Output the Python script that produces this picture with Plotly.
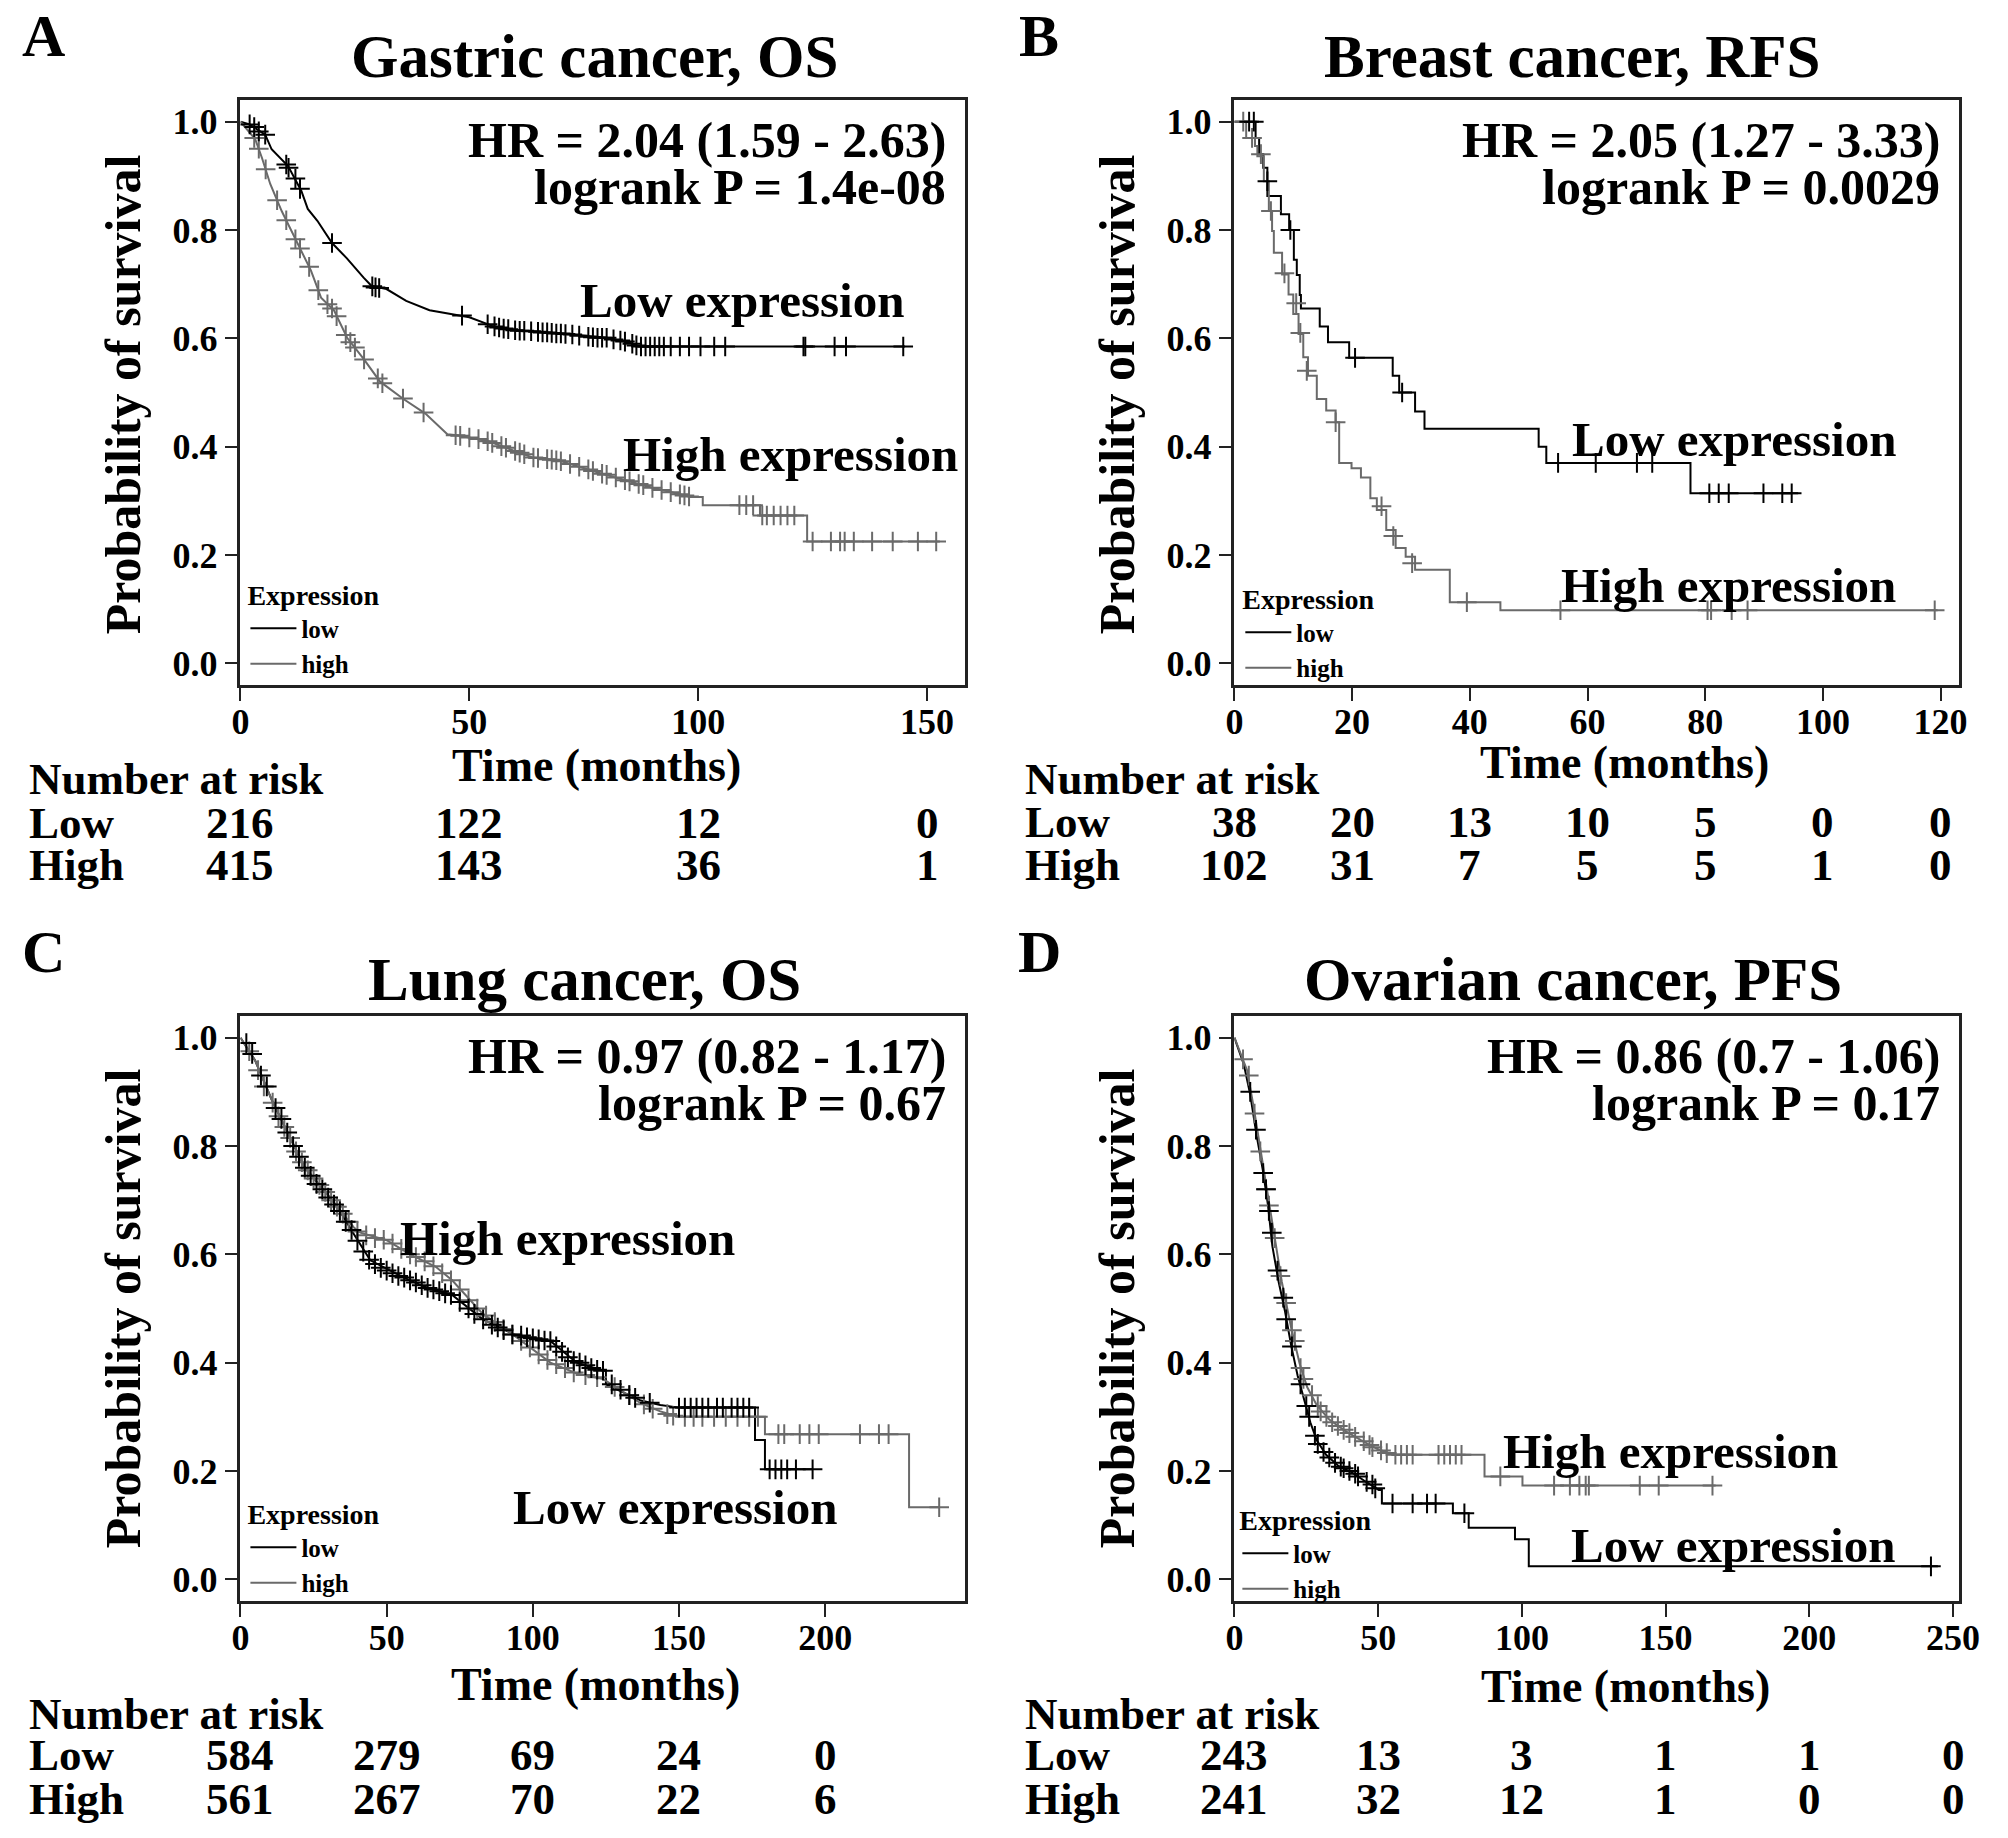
import plotly.graph_objects as go

W, H = 2008, 1838
FONT = "Liberation Serif"
LOW_COLOR = "#000000"
HIGH_COLOR = "#6a6a6a"

# ---------------- A: gastric cancer, OS ----------------
a_low_t = [0, 2, 5.4, 6.8, 10.4, 13.3, 14.7, 16.8, 20, 23.2, 26.9, 28.6, 31.9, 36.2, 41.3, 44.8,
           50, 55, 60, 70, 80, 85, 87, 145.2]
a_low_s = [1.0, 0.995, 0.976, 0.949, 0.918, 0.872, 0.839, 0.817, 0.776, 0.748, 0.712, 0.697, 0.691,
           0.669, 0.652, 0.647, 0.639, 0.623, 0.615, 0.609, 0.601, 0.592, 0.585, 0.585]
a_low_ct = [2, 3, 4, 5.4, 10, 10.5, 12, 13, 20, 28.8, 29.5, 30.3, 48.4, 54, 55.5, 56.5, 57.5, 58.5,
            60, 61, 62, 63.5, 65, 66, 67, 68, 69, 70, 71, 72.5, 74, 76, 77, 78, 79, 80, 81.5, 83, 84,
            85.6, 86.5, 87.5, 88.5, 89.5, 90.5, 91.5, 92.5, 94, 96, 98, 100.5, 103.5, 105.9, 123,
            123.4, 129.8, 132.3, 144.8]
a_low_cs = [0.995, 0.99, 0.982, 0.976, 0.921, 0.915, 0.895, 0.876, 0.776, 0.696, 0.694, 0.693,
            0.642, 0.626, 0.622, 0.62, 0.618, 0.617, 0.615, 0.614, 0.614, 0.613, 0.612, 0.611,
            0.611, 0.61, 0.609, 0.609, 0.608, 0.607, 0.605, 0.603, 0.602, 0.601, 0.601, 0.601,
            0.598, 0.596, 0.594, 0.59, 0.587, 0.585, 0.585, 0.585, 0.585, 0.585, 0.585, 0.585,
            0.585, 0.585, 0.585, 0.585, 0.585, 0.585, 0.585, 0.585, 0.585, 0.585]
a_high_t = [0, 3.2, 4.7, 6.5, 9, 11.1, 13.3, 15.4, 17.6, 20.4, 23.3, 26.9, 30.5, 35.6, 40.4, 45.2,
            47.3, 54.2, 58.3, 63.8, 69.4, 73.5, 79, 84.5, 88.7, 94.2, 98.3, 101, 101, 113.5, 113.5,
            123.8, 123.8, 152.8]
a_high_s = [1.0, 0.968, 0.933, 0.885, 0.835, 0.798, 0.761, 0.725, 0.675, 0.652, 0.601, 0.562, 0.52,
            0.488, 0.461, 0.423, 0.421, 0.41, 0.397, 0.38, 0.375, 0.364, 0.35, 0.337, 0.327, 0.316,
            0.307, 0.307, 0.292, 0.292, 0.273, 0.273, 0.225, 0.225]
a_high_ct = [3, 4, 5.5, 8, 10, 12, 13, 15, 17, 19, 20, 21, 23, 24, 25, 27, 30, 31, 35.5, 40, 47, 48,
             50, 52, 54, 55, 57, 58, 60, 61, 62, 64, 65, 67, 68, 69, 70, 72, 74, 76, 77, 79, 80, 82,
             84, 85, 87, 88, 90, 92, 94, 96, 97, 98, 109, 110.5, 112, 114, 115, 116.5, 118, 119.5,
             121, 125, 129, 131, 132, 134, 138, 142.5, 148, 152]
a_high_cs = [0.97, 0.95, 0.912, 0.855, 0.818, 0.783, 0.766, 0.732, 0.689, 0.663, 0.655, 0.641,
             0.606, 0.593, 0.583, 0.561, 0.526, 0.517, 0.489, 0.463, 0.421, 0.42, 0.417, 0.414,
             0.41, 0.407, 0.401, 0.398, 0.392, 0.389, 0.386, 0.38, 0.379, 0.377, 0.376, 0.375,
             0.373, 0.368, 0.363, 0.358, 0.355, 0.35, 0.348, 0.343, 0.338, 0.336, 0.331, 0.329,
             0.324, 0.32, 0.316, 0.312, 0.31, 0.308, 0.292, 0.292, 0.292, 0.273, 0.273, 0.273,
             0.273, 0.273, 0.273, 0.225, 0.225, 0.225, 0.225, 0.225, 0.225, 0.225, 0.225, 0.225]
a_nar_low = [216, 122, 12, 0]
a_nar_high = [415, 143, 36, 1]

# ---------------- B: breast cancer, RFS ----------------
b_low_t = [0, 3.6, 4.2, 4.9, 5.6, 7.9, 9.3, 10.1, 10.6, 11.1, 11.3, 14.5, 15.9, 19.5, 26.9, 28.0,
           30.7, 32.3, 51.7, 53.0, 77.5, 95.8]
b_low_s = [1.0, 0.97, 0.94, 0.915, 0.863, 0.829, 0.80, 0.745, 0.717, 0.68, 0.655, 0.622, 0.593,
           0.564, 0.531, 0.50, 0.465, 0.433, 0.40, 0.37, 0.314, 0.314]
b_low_ct = [2.5, 3.3, 5.6, 9.5, 20.5, 28.5, 55, 61.4, 68.4, 71, 80.7, 82.3, 84, 89.9, 93.1, 94.7]
b_low_cs = [1.0, 1.0, 0.89, 0.80, 0.564, 0.50, 0.37, 0.37, 0.37, 0.37, 0.314, 0.314, 0.314, 0.314,
            0.314, 0.314]
b_high_t = [0, 2.0, 3.5, 3.9, 5.0, 5.85, 6.4, 6.7, 8.1, 9.2, 10.0, 10.9, 11.7, 12.5, 14.0, 15.6,
            17.2, 17.8, 19.9, 21.5, 23.1, 24.2, 25.8, 27.4, 29.1, 30.7, 36.6, 45.2, 119.5]
b_high_s = [1.0, 0.97, 0.955, 0.936, 0.89, 0.835, 0.798, 0.758, 0.718, 0.681, 0.645, 0.608, 0.565,
            0.531, 0.488, 0.467, 0.445, 0.37, 0.36, 0.343, 0.305, 0.283, 0.246, 0.213, 0.197,
            0.173, 0.113, 0.098, 0.098]
b_high_ct = [1.5, 3.0, 4.5, 6.2, 8.5, 10.5, 11.2, 12.3, 17.2, 25, 27, 30.2, 39.5, 55.4, 80.4, 81,
             84.5, 87.2, 119]
b_high_cs = [1.0, 0.97, 0.94, 0.835, 0.72, 0.665, 0.61, 0.54, 0.445, 0.29, 0.235, 0.185, 0.113,
             0.098, 0.098, 0.098, 0.098, 0.098, 0.098]
b_nar_low = [38, 20, 13, 10, 5, 0, 0]
b_nar_high = [102, 31, 7, 5, 5, 1, 0]

# ---------------- C: lung cancer, OS ----------------
c_low_t = [0, 5, 10.7, 16.3, 21.9, 27.5, 33.1, 38.7, 44.4, 55.6, 63, 72.4, 82.9, 93.7, 100, 106,
           115, 124, 125, 125, 137, 143.6, 150, 176, 176, 179.4, 179.4, 195.7]
c_low_s = [1.0, 0.958, 0.885, 0.823, 0.761, 0.725, 0.688, 0.638, 0.589, 0.558, 0.54, 0.525, 0.48,
           0.452, 0.445, 0.44, 0.40, 0.385, 0.385, 0.36, 0.33, 0.322, 0.317, 0.317, 0.257, 0.257,
           0.203, 0.203]
c_low_ct = [2, 4, 7, 9, 12, 14, 16, 18, 20, 22, 24, 26, 28, 30, 32, 34, 36, 38, 40, 42, 44, 46, 48,
            50, 52, 54, 56, 58, 60, 62, 64, 66, 68, 70, 72, 75, 78, 80, 83, 86, 88, 90, 93, 96, 98,
            100, 102, 104, 106, 108, 110, 112, 114, 116, 118, 120, 122, 124, 127, 130, 133, 135,
            140, 150, 152, 154, 156, 158, 160, 163, 165, 168, 170, 172, 174, 181, 183, 185, 187,
            190, 195.7]
c_low_cs = [0.99, 0.97, 0.93, 0.91, 0.87, 0.85, 0.825, 0.8, 0.78, 0.76, 0.745, 0.73, 0.72, 0.705,
            0.692, 0.68, 0.66, 0.645, 0.625, 0.605, 0.59, 0.582, 0.575, 0.57, 0.565, 0.56, 0.557,
            0.552, 0.548, 0.543, 0.538, 0.535, 0.532, 0.528, 0.525, 0.512, 0.5, 0.49, 0.48, 0.47,
            0.465, 0.46, 0.452, 0.45, 0.447, 0.445, 0.443, 0.441, 0.44, 0.43, 0.42, 0.41, 0.403,
            0.4, 0.395, 0.39, 0.387, 0.385, 0.36, 0.35, 0.34, 0.335, 0.326, 0.317, 0.317, 0.317,
            0.317, 0.317, 0.317, 0.317, 0.317, 0.317, 0.317, 0.317, 0.317, 0.203, 0.203, 0.203,
            0.203, 0.203, 0.203]
c_high_t = [0, 5, 10.7, 16.3, 21.9, 27.5, 33.1, 38.7, 41, 50, 58, 66.8, 72.4, 82.9, 93.7, 100, 106,
            115, 124, 137, 143.6, 150, 179.4, 179.4, 228.7, 228.7, 239]
c_high_s = [1.0, 0.958, 0.885, 0.823, 0.761, 0.725, 0.688, 0.65, 0.64, 0.626, 0.60, 0.577, 0.552,
            0.49, 0.45, 0.425, 0.40, 0.38, 0.37, 0.325, 0.31, 0.30, 0.30, 0.268, 0.268, 0.133, 0.133]
c_high_ct = [3, 6, 8, 11, 13, 15, 17, 19, 21, 23, 25, 27, 29, 31, 33, 35, 37, 40, 43, 46, 49, 52,
             55, 58, 60, 63, 66, 69, 72, 75, 78, 81, 84, 87, 90, 93, 96, 99, 102, 105, 108, 111,
             114, 118, 122, 128, 133, 138, 141, 146, 148, 152, 155, 158, 162, 166, 170, 174, 177,
             184, 186, 191.3, 194.6, 197.8, 211.9, 218.4, 221.7, 239]
c_high_cs = [0.975, 0.94, 0.91, 0.88, 0.855, 0.835, 0.815, 0.79, 0.77, 0.755, 0.74, 0.728, 0.715,
             0.7, 0.688, 0.675, 0.66, 0.642, 0.635, 0.63, 0.627, 0.62, 0.61, 0.6, 0.595, 0.587,
             0.578, 0.565, 0.552, 0.535, 0.515, 0.5, 0.487, 0.475, 0.462, 0.452, 0.44, 0.428,
             0.415, 0.405, 0.397, 0.39, 0.382, 0.377, 0.373, 0.355, 0.34, 0.323, 0.315, 0.305,
             0.302, 0.30, 0.30, 0.30, 0.30, 0.30, 0.30, 0.30, 0.30, 0.268, 0.268, 0.268, 0.268,
             0.268, 0.268, 0.268, 0.268, 0.133]
c_nar_low = [584, 279, 69, 24, 0]
c_nar_high = [561, 267, 70, 22, 6]

# ---------------- D: ovarian cancer, PFS ----------------
d_low_t = [0, 3.3, 5.5, 7.7, 9.9, 11.7, 13.2, 15.4, 17.6, 19.8, 22, 24.2, 26.4, 28.6, 31.9, 36.3,
           40.7, 45.2, 50.2, 51.3, 51.3, 76, 76, 81.5, 81.5, 97.6, 97.6, 102.4, 102.4, 244.7]
d_low_s = [1.0, 0.95, 0.895, 0.82, 0.755, 0.69, 0.615, 0.549, 0.495, 0.43, 0.376, 0.333, 0.29,
           0.257, 0.23, 0.209, 0.198, 0.182, 0.165, 0.165, 0.14, 0.14, 0.122, 0.122, 0.095, 0.095,
           0.074, 0.074, 0.024, 0.024]
d_low_ct = [5.5, 7.5, 10, 11, 12, 13, 15, 17, 18, 20, 23, 25, 26, 28, 29, 31, 33, 35, 37, 38, 40,
            42, 43, 46, 48, 49, 55, 62, 67, 70, 80, 242.3]
d_low_cs = [0.9, 0.83, 0.75, 0.72, 0.68, 0.64, 0.57, 0.52, 0.48, 0.43, 0.36, 0.32, 0.3, 0.265,
            0.25, 0.235, 0.225, 0.215, 0.208, 0.205, 0.2, 0.195, 0.19, 0.18, 0.175, 0.168, 0.14,
            0.14, 0.14, 0.14, 0.122, 0.024]
d_high_t = [0, 4.4, 6.6, 9.9, 13.2, 16.5, 19.8, 22.7, 25.3, 28.6, 33, 38.5, 44, 49.6, 55.1, 87,
            87, 100.2, 100.2, 167.4]
d_high_s = [1.0, 0.94, 0.875, 0.765, 0.657, 0.549, 0.463, 0.398, 0.355, 0.322, 0.295, 0.274, 0.257,
            0.241, 0.23, 0.23, 0.19, 0.19, 0.173, 0.173]
d_high_ct = [3, 5, 7, 9, 11, 12, 14, 16, 18, 20, 21, 23, 24, 27, 29, 30, 32, 34, 36, 38, 40, 42,
             45, 47, 48, 51, 53, 56, 58, 60, 62, 71, 73, 75, 77, 79, 92.5, 111.2, 116.7, 120, 122.2,
             123.3, 141, 147.6, 166.3]
d_high_cs = [0.96, 0.93, 0.86, 0.79, 0.72, 0.69, 0.63, 0.56, 0.51, 0.46, 0.44, 0.39, 0.37, 0.34,
             0.32, 0.31, 0.3, 0.29, 0.283, 0.276, 0.27, 0.263, 0.255, 0.248, 0.244, 0.238, 0.233,
             0.23, 0.23, 0.23, 0.23, 0.23, 0.23, 0.23, 0.23, 0.23, 0.19, 0.173, 0.173, 0.173,
             0.173, 0.173, 0.173, 0.173, 0.173]
d_nar_low = [243, 13, 3, 1, 1, 0]
d_nar_high = [241, 32, 12, 1, 0, 0]

panels = [
    dict(letter="A", title="Gastric cancer, OS", box=(235, 100, 971, 685), xmax=158.4,
         xticks=[0, 50, 100, 150], shape="linear",
         low=(a_low_t, a_low_s), high=(a_high_t, a_high_s),
         low_c=(a_low_ct, a_low_cs), high_c=(a_high_ct, a_high_cs),
         hr="HR = 2.04 (1.59 - 2.63)", p="logrank P = 1.4e-08",
         nar=(a_nar_low, a_nar_high),
         labels=[("Low expression", 145.5, 0.669), ("High expression", 157.3, 0.385)],
         title_xy=(594, 57), letter_xy=(35, 36), ytitle_xy=(116, 394), xtitle_xy=(596, 766),
         nar_y=(779, 823, 865), nar_left=18, legend_xy=(240, 569)),
    dict(letter="B", title="Breast cancer, RFS", box=(1244, 100, 1980, 685), xmax=123.2,
         xticks=[0, 20, 40, 60, 80, 100, 120], shape="hv",
         low=(b_low_t, b_low_s), high=(b_high_t, b_high_s),
         low_c=(b_low_ct, b_low_cs), high_c=(b_high_ct, b_high_cs),
         hr="HR = 2.05 (1.27 - 3.33)", p="logrank P = 0.0029",
         nar=(b_nar_low, b_nar_high),
         labels=[("Low expression", 112.7, 0.413), ("High expression", 112.7, 0.143)],
         title_xy=(1587, 57), letter_xy=(1046, 36), ytitle_xy=(1125, 394), xtitle_xy=(1640, 763),
         nar_y=(779, 822, 865), nar_left=1029, legend_xy=(1250, 573)),
    dict(letter="C", title="Lung cancer, OS", box=(235, 1016, 971, 1601), xmax=248.0,
         xticks=[0, 50, 100, 150, 200], shape="linear",
         low=(c_low_t, c_low_s), high=(c_high_t, c_high_s),
         low_c=(c_low_ct, c_low_cs), high_c=(c_high_ct, c_high_cs),
         hr="HR = 0.97 (0.82 - 1.17)", p="logrank P = 0.67",
         nar=(c_nar_low, c_nar_high),
         labels=[("High expression", 169.9, 0.63), ("Low expression", 204.7, 0.133)],
         title_xy=(584, 979), letter_xy=(35, 952), ytitle_xy=(116, 1308), xtitle_xy=(595, 1684),
         nar_y=(1714, 1755, 1799), nar_left=18, legend_xy=(240, 1488)),
    dict(letter="D", title="Ovarian cancer, PFS", box=(1244, 1016, 1980, 1601), xmax=252.2,
         xticks=[0, 50, 100, 150, 200, 250], shape="linear",
         low=(d_low_t, d_low_s), high=(d_high_t, d_high_s),
         low_c=(d_low_ct, d_low_cs), high_c=(d_high_ct, d_high_cs),
         hr="HR = 0.86 (0.7 - 1.06)", p="logrank P = 0.17",
         nar=(d_nar_low, d_nar_high),
         labels=[("High expression", 210.7, 0.236), ("Low expression", 230.4, 0.063)],
         title_xy=(1588, 979), letter_xy=(1046, 952), ytitle_xy=(1125, 1308), xtitle_xy=(1641, 1686),
         nar_y=(1714, 1755, 1799), nar_left=1029, legend_xy=(1247, 1494)),
]


def px(x):
    return x / W


def py(y):
    return 1 - y / H


def bold(size):
    return dict(family=FONT, size=size, color="black", weight="bold")


fig = go.Figure()
annotations = []
layout = {}

for i, p in enumerate(panels, start=1):
    sfx = "" if i == 1 else str(i)
    xa, ya, lg = "x" + sfx, "y" + sfx, "legend" + sfx
    left, top, right, bottom = p["box"]

    for (t, s), name, col in [(p["low"], "low", LOW_COLOR), (p["high"], "high", HIGH_COLOR)]:
        fig.add_trace(go.Scatter(x=t, y=s, mode="lines", name=name, legend=lg,
                                 line=dict(color=col, width=2, shape=p["shape"]),
                                 xaxis=xa, yaxis=ya, hoverinfo="skip"))
    for (t, s), col in [(p["high_c"], HIGH_COLOR), (p["low_c"], LOW_COLOR)]:
        fig.add_trace(go.Scatter(x=t, y=s, mode="markers", showlegend=False,
                                 marker=dict(symbol="cross-thin", size=14,
                                             line=dict(color=col, width=2)),
                                 xaxis=xa, yaxis=ya, hoverinfo="skip"))

    axis_common = dict(showline=True, mirror=True, linecolor="#222", linewidth=2.5,
                       ticks="outside", ticklen=13, tickwidth=2, tickcolor="#222",
                       showgrid=False, zeroline=False, tickfont=bold(36))
    layout["xaxis" + sfx] = dict(axis_common, domain=[px(left), px(right)], range=[0, p["xmax"]],
                                 anchor=ya, tickvals=p["xticks"], ticklabelstandoff=-10)
    layout["yaxis" + sfx] = dict(axis_common, domain=[py(bottom), py(top)], range=[-0.04, 1.04],
                                 anchor=xa, tickvals=[0, 0.2, 0.4, 0.6, 0.8, 1.0], tickformat=".1f")
    layout[lg] = dict(x=px(p["legend_xy"][0]), y=py(p["legend_xy"][1]), xanchor="left",
                      yanchor="top", bgcolor="rgba(0,0,0,0)", borderwidth=0,
                      title=dict(text="Expression", font=bold(28)), font=bold(25),
                      itemwidth=46, tracegroupgap=0)

    # panel letter, title, axis titles
    annotations.append(dict(text=p["letter"], x=px(p["letter_xy"][0]), y=py(p["letter_xy"][1]),
                            font=bold(60)))
    annotations.append(dict(text=p["title"], x=px(p["title_xy"][0]), y=py(p["title_xy"][1]),
                            font=bold(61)))
    annotations.append(dict(text="Probability of survival", x=px(p["ytitle_xy"][0]),
                            y=py(p["ytitle_xy"][1]), textangle=-90, font=bold(50)))
    annotations.append(dict(text="Time (months)", x=px(p["xtitle_xy"][0]),
                            y=py(p["xtitle_xy"][1]), font=bold(46)))

    # HR and logrank text
    annotations.append(dict(text=p["hr"], x=px(right - 18), y=py(top + 40), xanchor="right",
                            font=bold(50)))
    annotations.append(dict(text=p["p"], x=px(right - 18), y=py(top + 87), xanchor="right",
                            font=bold(50)))

    # curve labels
    for txt, xr, yv in p["labels"]:
        annotations.append(dict(text=txt, x=xr, y=yv, xref=xa, yref=ya, xanchor="right",
                                font=bold(49)))

    # number at risk table
    ny0, ny1, ny2 = p["nar_y"]
    annotations.append(dict(text="Number at risk", x=px(p["nar_left"]), y=py(ny0),
                            xanchor="left", font=bold(45)))
    for lab, vals, yy in [("Low", p["nar"][0], ny1), ("High", p["nar"][1], ny2)]:
        annotations.append(dict(text=lab, x=px(p["nar_left"]), y=py(yy), xanchor="left",
                                font=bold(45)))
        for tk, v in zip(p["xticks"], vals):
            annotations.append(dict(text=str(v), x=tk, xref=xa, y=py(yy), font=bold(45)))

for a in annotations:
    a.setdefault("xref", "paper")
    a.setdefault("yref", "paper")
    a.setdefault("showarrow", False)
    a.setdefault("xanchor", "center")
    a.setdefault("yanchor", "middle")

fig.update_layout(width=W, height=H, autosize=False, margin=dict(l=0, r=0, t=0, b=0),
                  paper_bgcolor="white", plot_bgcolor="white", showlegend=True,
                  annotations=annotations, **layout)

# drop the browser's default body margin so the figure sits at the page corner
fig.write_html("out.html", config={"displayModeBar": False},
               post_script="document.body.style.margin = '0px';")
